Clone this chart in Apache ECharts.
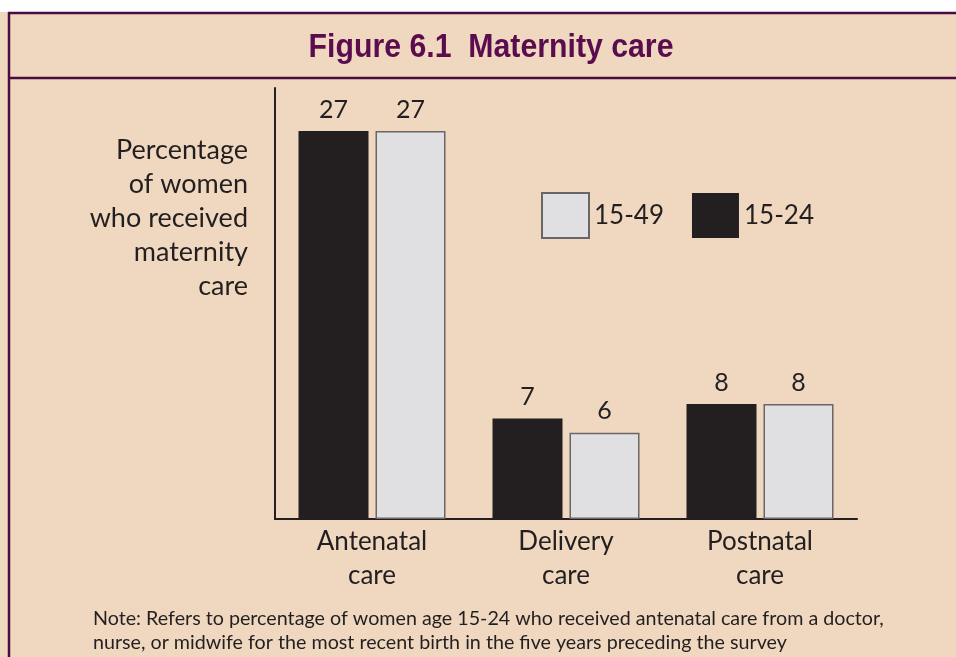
<!DOCTYPE html>
<html>
<head>
<meta charset="utf-8">
<script src="https://cdn.jsdelivr.net/npm/echarts@6/dist/echarts.min.js"></script>
<style>
  html, body { margin: 0; padding: 0; background: #fff; }
  #chart { width: 956px; height: 657px; }
</style>
</head>
<body>
<div id="chart"></div>
<script>
// data
let categories = ['Antenatal\ncare', 'Delivery\ncare', 'Postnatal\ncare'];
let young = [27, 7, 8];   // 15-24
let all = [27, 6, 8];     // 15-49
let yName = ['Percentage', 'of women', 'who received', 'maternity', 'care'];

let beige = '#efd8bf';
let plum = '#4c0b43';
let ink = '#231f20';
let font = 'Lato';

let chart = echarts.init(document.getElementById('chart'), null, { renderer: 'canvas' });

let label = {
  show: true,
  position: 'top',
  distance: 9,
  fontFamily: font,
  fontSize: 25,
  color: ink,
};

let options = {
  backgroundColor: beige,
  animation: false,
  legend: {
    data: ['15-49', '15-24'],
    icon: 'rect',
    left: 536,
    top: 187,
    itemWidth: 47,
    itemHeight: 45,
    itemGap: 28,
    textStyle: { fontFamily: font, fontSize: 26, color: ink },
  },
  grid: { left: 275, right: 99, top: 88, bottom: 138 },
  xAxis: {
    type: 'category',
    data: categories,
    axisLine: { lineStyle: { color: ink, width: 2 } },
    axisTick: { show: false },
    axisLabel: {
      fontFamily: font,
      fontSize: 26,
      lineHeight: 34,
      color: ink,
      margin: 6,
    },
  },
  yAxis: {
    type: 'value',
    min: 0,
    max: 30,
    axisLine: { show: true, lineStyle: { color: ink, width: 2 } },
    axisTick: { show: false },
    axisLabel: { show: false },
    splitLine: { show: false },
  },
  series: [
    {
      name: '15-24',
      type: 'bar',
      data: young,
      barWidth: 70,
      barGap: '10%',
      itemStyle: { color: ink },
      label,
    },
    {
      name: '15-49',
      type: 'bar',
      data: all,
      barWidth: 70,
      itemStyle: { color: '#e0e0e2', borderColor: '#6b6666', borderWidth: 1.5 },
      label,
    },
  ],
  graphic: [
    { type: 'rect', shape: { x: 0, y: 0, width: 956, height: 12 }, style: { fill: '#fff' } },
    { type: 'line', shape: { x1: 8, y1: 13, x2: 956, y2: 13 }, style: { stroke: plum, lineWidth: 2.5 } },
    { type: 'line', shape: { x1: 9, y1: 12, x2: 9, y2: 657 }, style: { stroke: plum, lineWidth: 2.5 } },
    { type: 'line', shape: { x1: 8, y1: 78, x2: 956, y2: 78 }, style: { stroke: plum, lineWidth: 2.5 } },
    {
      type: 'text',
      x: 491,
      y: 31,
      scaleX: 0.89,
      style: {
        text: 'Figure 6.1  Maternity care',
        textAlign: 'center',
        fontFamily: 'Liberation Sans',
        fontWeight: 'bold',
        fontSize: 34,
        fill: '#5a0c4e',
      },
    },
    {
      type: 'text',
      x: 248,
      y: 133,
      style: {
        text: yName.join('\n'),
        textAlign: 'right',
        fontFamily: font,
        fontSize: 27,
        lineHeight: 34,
        fill: ink,
      },
    },
    {
      type: 'text',
      x: 93,
      y: 607,
      style: {
        text: 'Note: Refers to percentage of women age 15-24 who received antenatal care from a doctor,\nnurse, or midwife for the most recent birth in the five years preceding the survey',
        fontFamily: font,
        fontSize: 19.7,
        lineHeight: 24,
        fill: ink,
      },
    },
  ],
};

chart.setOption(options);
</script>
</body>
</html>
